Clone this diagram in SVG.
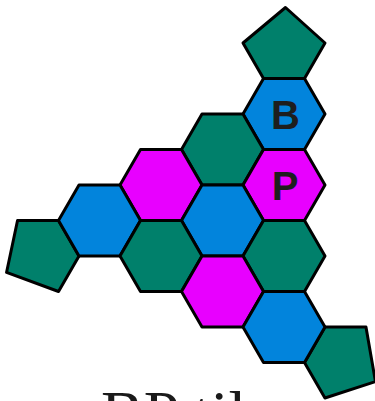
<svg xmlns="http://www.w3.org/2000/svg" xmlns:xlink="http://www.w3.org/1999/xlink" width="375" height="401" viewBox="0 0 375 401">
<style>
.sh{stroke:#000;stroke-width:3;stroke-linejoin:round}
.b{fill:#0284DC}
.m{fill:#E800FF}
.g{fill:#00806B}
.lbl{font-family:"Liberation Sans",Arial,sans-serif;font-weight:bold;font-size:40px;fill:#1e1e1e;text-anchor:middle}
.cap{font-family:"Liberation Serif","Times New Roman",serif;font-size:64px;fill:#1a1a1a}
</style>
<defs>
<polygon id="hex" points="-41,0 -20.5,-35.5 20.5,-35.5 41,0 20.5,35.5 -20.5,35.5"/>
<polygon id="pent" points="263.5,78.5 243,43 285.5,7.5 325,43 304.5,78.5"/>
</defs>
<g id="pent-top"><use xlink:href="#pent" href="#pent" class="sh g"/></g>
<g id="pent-left"><use xlink:href="#pent" href="#pent" class="sh g" transform="rotate(240 222.5 220.5)"/></g>
<g id="pent-bottom"><use xlink:href="#pent" href="#pent" class="sh g" transform="rotate(120 222.5 220.5)"/></g>
<g id="hex-B"><use xlink:href="#hex" href="#hex" class="sh b" x="284" y="114"/><text class="lbl" x="285.5" y="128.5">B</text></g>
<g id="hex-green1"><use xlink:href="#hex" href="#hex" class="sh g" x="222.5" y="149.5"/></g>
<g id="hex-P"><use xlink:href="#hex" href="#hex" class="sh m" x="284" y="185"/><text class="lbl" x="285" y="199.5">P</text></g>
<g id="hex-magenta1"><use xlink:href="#hex" href="#hex" class="sh m" x="161" y="185"/></g>
<g id="hex-blue-left"><use xlink:href="#hex" href="#hex" class="sh b" x="99.5" y="220.5"/></g>
<g id="hex-blue-center"><use xlink:href="#hex" href="#hex" class="sh b" x="222.5" y="220.5"/></g>
<g id="hex-green2"><use xlink:href="#hex" href="#hex" class="sh g" x="161" y="256"/></g>
<g id="hex-green3"><use xlink:href="#hex" href="#hex" class="sh g" x="284" y="256"/></g>
<g id="hex-magenta2"><use xlink:href="#hex" href="#hex" class="sh m" x="222.5" y="291.5"/></g>
<g id="hex-blue-bottom"><use xlink:href="#hex" href="#hex" class="sh b" x="284" y="327"/></g>
<g id="connectors"></g>
<text class="cap" x="101" y="435">BP tile</text>
</svg>
